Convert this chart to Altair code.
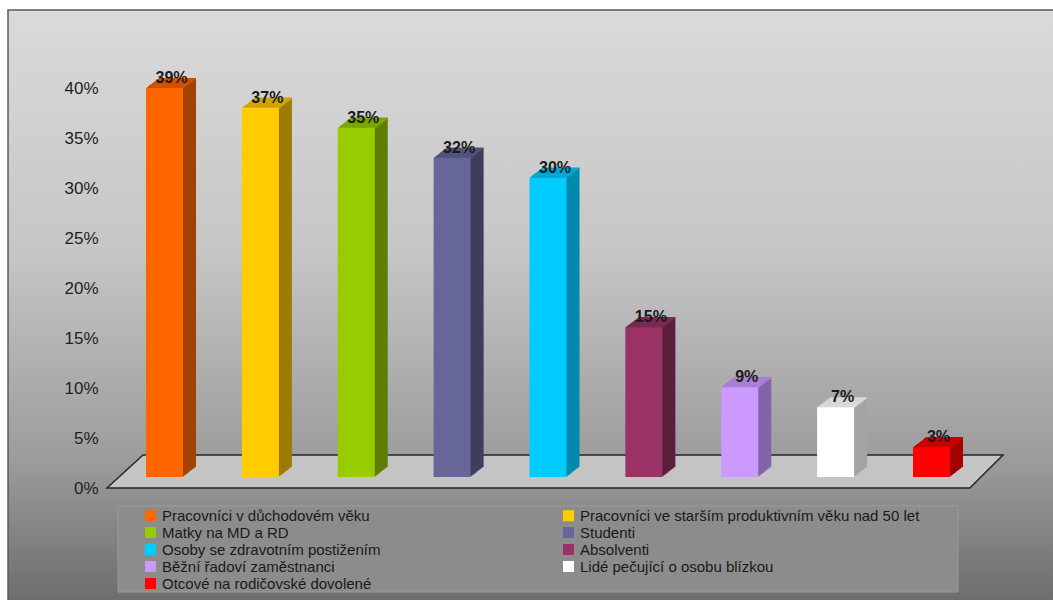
import altair as alt
import pandas as pd

categories = [
    "Pracovníci v důchodovém věku",
    "Pracovníci ve starším produktivním věku nad 50 let",
    "Matky na MD a RD",
    "Studenti",
    "Osoby se zdravotním postižením",
    "Absolventi",
    "Běžní řadoví zaměstnanci",
    "Lidé pečující o osobu blízkou",
    "Otcové na rodičovské dovolené",
]
values = [39, 37, 35, 32, 30, 15, 9, 7, 3]
front_colors = ["#ff6600", "#ffcc00", "#99cc00", "#666699", "#00ccff",
                "#993366", "#cc99ff", "#ffffff", "#ff0000"]
side_colors = ["#a34200", "#9c7c00", "#5f7f00", "#3e3e5e", "#0089ab",
               "#5c1f3e", "#8463a8", "#a3a3a3", "#a30000"]
top_colors = ["#cc5200", "#d1a600", "#7ca600", "#52527d", "#00a8d2",
              "#7a2952", "#a880d6", "#d9d9d9", "#cc0000"]
y_ticks = [0, 5, 10, 15, 20, 25, 30, 35, 40]

df = pd.DataFrame({
    "cat": categories,
    "v": values,
    "front": front_colors,
    "side": side_colors,
    "top": top_colors,
    "lbl": [f"{v}%" for v in values],
})
one = pd.DataFrame({"a": [0]})

W, H = 890, 439
PL, PT = 110, 49

xs = alt.X("cat:N", sort=categories, axis=None,
           scale=alt.Scale(range=[36, 840], paddingInner=0.614, paddingOuter=0))
ys = alt.Y("v:Q", scale=alt.Scale(domain=[0, 44], nice=False),
           axis=alt.Axis(values=y_ticks, labelExpr="datum.value + '%'", grid=False,
                         domain=False, ticks=False, tickSize=0, labelPadding=12,
                         labelFont="Liberation Sans", labelFontSize=17,
                         labelColor="#222222", title=None, zindex=2))

# background panel with gradient
bg = alt.Chart(one).mark_rect(
    fill=alt.Gradient(gradient="linear", x1=0, x2=0, y1=0, y2=1,
                      stops=[alt.GradientStop(offset=0, color="#dadada"),
                             alt.GradientStop(offset=0.4, color="#c6c6c6"),
                             alt.GradientStop(offset=0.75, color="#9c9c9c"),
                             alt.GradientStop(offset=1, color="#6a6a6a")]),
    stroke="#5a5a5a", strokeWidth=1.5,
).encode(x=alt.value(8 - PL), x2=alt.value(1060 - PL),
         y=alt.value(10 - PT), y2=alt.value(610 - PT))

# floor (parallelogram)
floor_path = "M -1 0.0368 L 0.926 0.0368 L 1 -0.0368 L -0.9196 -0.0368 Z"
floor = alt.Chart(one).mark_point(
    shape=floor_path, filled=True, fill="#c4c4c4", stroke="#262626",
    strokeWidth=1.5, opacity=1, fillOpacity=1, size=896 * 896,
).encode(x=alt.value(555 - PL), y=alt.value(471.5 - PT))

legend_box = alt.Chart(one).mark_rect(fill="#8c8c8c", stroke="#9a9a9a", strokeWidth=1).encode(
    x=alt.value(118 - PL), x2=alt.value(958 - PL),
    y=alt.value(506 - PT), y2=alt.value(592 - PT))

base = alt.Chart(df)
layers = [bg, floor, legend_box]

N = 13
DEPTH_Y = 10.0
BASE_OFF = -11
# side extrusion
for k in range(N, 0, -1):
    dx = k
    dy = BASE_OFF - k * DEPTH_Y / N
    layers.append(
        base.mark_bar(xOffset=dx, x2Offset=dx, yOffset=dy, y2Offset=dy).encode(
            x=xs, y=ys, y2=alt.datum(0), fill=alt.Fill("side:N", scale=None)))
# top face slivers
for k in range(N, 0, -1):
    dx = k
    dy = BASE_OFF - k * DEPTH_Y / N
    layers.append(
        base.mark_bar(xOffset=dx, x2Offset=dx, yOffset=dy, y2Offset=dy + 1.3).encode(
            x=xs, y=ys, y2="v:Q", fill=alt.Fill("top:N", scale=None)))

front = base.mark_bar(yOffset=BASE_OFF, y2Offset=BASE_OFF).encode(
    x=xs, y=ys, y2=alt.datum(0),
    color=alt.Color("cat:N", sort=categories,
                    scale=alt.Scale(domain=categories, range=front_colors),
                    legend=alt.Legend(
                        orient="none", legendX=33, legendY=459, columns=2,
                        direction="horizontal",
                        columnPadding=180, rowPadding=1, title=None,
                        symbolType="square", symbolSize=121, symbolStrokeWidth=0,
                        symbolOpacity=1, labelFont="Liberation Sans", labelFontSize=15,
                        labelColor="#1a1a1a", labelLimit=500, padding=0,
                        labelOffset=4)),
)
layers.append(front)

labels = base.mark_text(font="Liberation Sans", fontWeight="bold", fontSize=16,
                        color="#1a1a1a", dx=7, dy=-16, baseline="alphabetic").encode(
    x=xs, y=ys, text="lbl:N")
layers.append(labels)

chart = alt.layer(*layers).properties(
    width=W, height=H, autosize="none",
    padding={"left": PL, "top": PT, "right": 1053 - PL - W, "bottom": 600 - PT - H},
    background="white",
).configure_view(stroke=None)

chart.save("out.html", embed_options={"renderer": "svg", "actions": False})
